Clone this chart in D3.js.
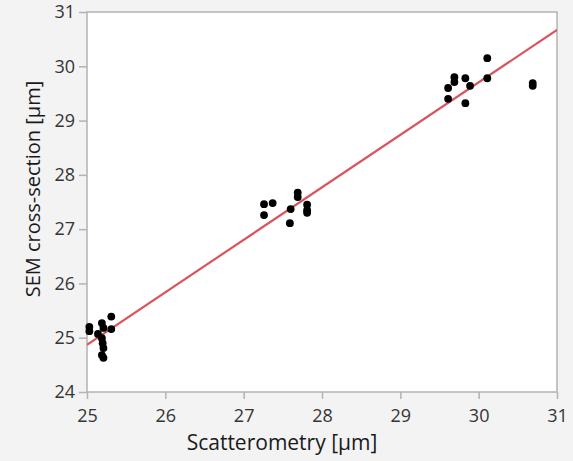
<!DOCTYPE html>
<html>
<head>
<meta charset="utf-8">
<script src="https://cdn.jsdelivr.net/npm/d3@7"></script>
<style>
  html, body { margin: 0; padding: 0; background: #f3f3f3; }
  svg { display: block; }
</style>
</head>
<body>
<svg id="chart" width="573" height="461"></svg>
<script>
// Scatterometry vs SEM cross-section measurements (µm)
const scatterometry = [
  25.03, 25.03, 25.19, 25.21, 25.14, 25.19, 25.20, 25.21, 25.19, 25.21, 25.31, 25.31,
  27.26, 27.37, 27.26, 27.60, 27.59, 27.69, 27.69, 27.81, 27.81, 27.81,
  29.61, 29.61, 29.69, 29.69, 29.83, 29.89, 29.83, 30.11, 30.11, 30.69, 30.69
];
const semCrossSection = [
  25.20, 25.12, 25.27, 25.18, 25.07, 24.99, 24.90, 24.81, 24.68, 24.63, 25.39, 25.16,
  27.46, 27.48, 27.26, 27.37, 27.11, 27.67, 27.59, 27.45, 27.35, 27.30,
  29.60, 29.40, 29.80, 29.71, 29.78, 29.64, 29.32, 30.15, 29.78, 29.69, 29.64
];
// Fitted line endpoints (x, y)
const fitX = [25, 31];
const fitY = [24.87, 30.67];
const xTicks = [25, 26, 27, 28, 29, 30, 31];
const yTicks = [24, 25, 26, 27, 28, 29, 30, 31];

const svg = d3.select("#chart");
const W = 573, H = 461;
const m = { left: 87, right: 16, top: 12, bottom: 69 };
const pw = W - m.left - m.right, ph = H - m.top - m.bottom;

const x = d3.scaleLinear().domain([25, 31]).range([m.left, m.left + pw]);
const y = d3.scaleLinear().domain([24, 31]).range([m.top + ph, m.top]);

const frame = "#b3b3b3";
const font = "'Open Sans', 'Noto Sans', sans-serif";

// plot area
svg.append("rect")
  .attr("x", m.left).attr("y", m.top)
  .attr("width", pw).attr("height", ph)
  .attr("fill", "#ffffff");

svg.append("defs").append("clipPath").attr("id", "plotclip")
  .append("rect").attr("x", m.left).attr("y", m.top).attr("width", pw).attr("height", ph);

// axes
const xAxis = svg.append("g")
  .attr("transform", `translate(0,${m.top + ph})`)
  .call(d3.axisBottom(x).tickValues(xTicks).tickFormat(d3.format("d")).tickSize(7).tickPadding(10));
const yAxis = svg.append("g")
  .attr("transform", `translate(${m.left},0)`)
  .call(d3.axisLeft(y).tickValues(yTicks).tickFormat(d3.format("d")).tickSize(8).tickPadding(4));

[xAxis, yAxis].forEach(g => {
  g.select(".domain").remove();
  g.selectAll(".tick line").attr("stroke", frame).attr("stroke-width", 1.5);
  g.selectAll(".tick text")
    .attr("fill", "#353535")
    .style("font-family", font)
    .style("font-size", "18px");
});

// frame border
svg.append("rect")
  .attr("x", m.left).attr("y", m.top)
  .attr("width", pw).attr("height", ph)
  .attr("fill", "none")
  .attr("stroke", frame)
  .attr("stroke-width", 1.5);

// fit line
const fit = fitX.map((v, i) => [v, fitY[i]]);
svg.append("path")
  .datum(fit)
  .attr("clip-path", "url(#plotclip)")
  .attr("d", d3.line().x(d => x(d[0])).y(d => y(d[1])))
  .attr("fill", "none")
  .attr("stroke", "#d9545f")
  .attr("stroke-width", 2.2);

// points
const pts = scatterometry.map((v, i) => ({ sx: v, sem: semCrossSection[i] }));
svg.append("g").selectAll("circle")
  .data(pts)
  .join("circle")
  .attr("cx", d => x(d.sx))
  .attr("cy", d => y(d.sem))
  .attr("r", 3.9)
  .attr("fill", "#000000");

// axis titles
svg.append("text")
  .attr("x", 282).attr("y", 450)
  .attr("text-anchor", "middle")
  .attr("fill", "#1a1a1a")
  .style("font-family", font)
  .style("font-size", "21px")
  .text("Scatterometry [µm]");

svg.append("text")
  .attr("transform", "translate(40,189) rotate(-90)")
  .attr("text-anchor", "middle")
  .attr("fill", "#1a1a1a")
  .style("font-family", font)
  .style("font-size", "20px")
  .text("SEM cross-section [µm]");
</script>
</body>
</html>
